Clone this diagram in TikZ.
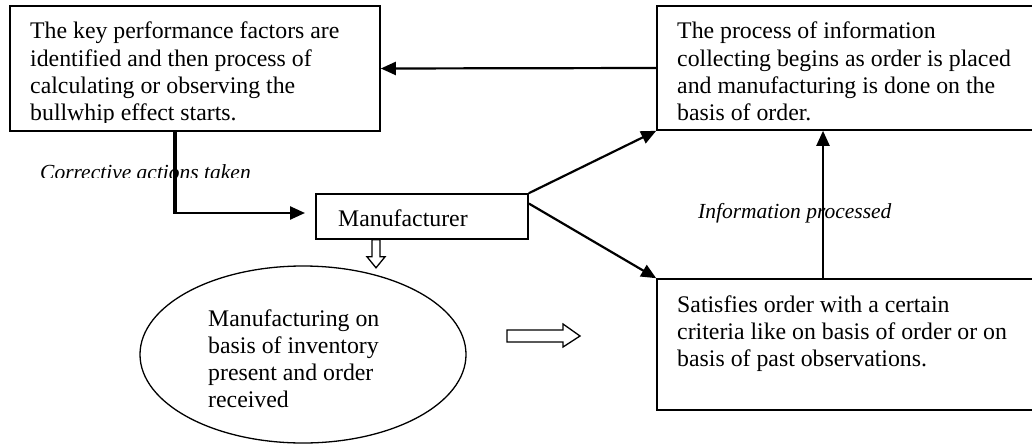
\documentclass[tikz,border=0pt]{standalone}
\usepackage{fontspec}
\setmainfont{Liberation Serif}
\usetikzlibrary{arrows.meta,shapes.geometric}
\tikzset{
  box/.style={draw, line width=1.6pt, inner sep=0pt, rectangle},
  txt/.style={anchor=base west, inner sep=0pt, font=\fontsize{23.8}{27.3}\selectfont},
  itxt/.style={anchor=base west, inner sep=0pt, font=\fontsize{21.5}{26}\selectfont\itshape},
  conn/.style={line width=2.2pt, -{Triangle[length=15pt,width=13pt]}},
  hollow/.style={draw, line width=1.3pt, fill=white, line join=miter}
}
\newcommand{\lines}[1]{\parbox[t]{420pt}{\raggedright #1}}
\begin{document}
\begin{tikzpicture}[x=1pt,y=-1pt]
\useasboundingbox (0,0) rectangle (1032,444);
\clip (0,0) rectangle (1032,444);
% boxes
\node[box, minimum width=370pt, minimum height=125pt] (b1) at (195,68.5) {};
\node[box, minimum width=388pt, minimum height=124pt] (b2) at (851,68) {};
\node[box, minimum width=212pt, minimum height=45pt] (mf) at (422,216.5) {};
\node[draw, line width=1.3pt, ellipse, minimum width=326pt, minimum height=177pt, inner sep=0pt] (el) at (303,354.5) {};
\node[box, minimum width=388pt, minimum height=131pt] (b3) at (851,344.5) {};
% texts
\begin{scope}
\clip (10,6) rectangle (380,122);
\node[txt] (b1t) at (30,39) {\lines{The key performance factors are\\identified and then process of\\calculating or observing the\\bullwhip effect starts.}};
\end{scope}
\begin{scope}
\clip (657,6) rectangle (1032,122);
\node[txt] (b2t) at (677,39) {\lines{The process of information\\collecting begins as order is placed\\and manufacturing is done on the\\basis of order.}};
\end{scope}
\node[txt] (mft) at (338,226) {Manufacturer};
\node[txt] (elt) at (208,326) {\lines{Manufacturing on\\basis of inventory\\present and order\\received}};
\node[txt] (b3t) at (677,312) {\lines{Satisfies order with a certain\\criteria like on basis of order or on\\basis of past observations.}};
\begin{scope}
\clip (0,140) rectangle (400,177.5);
\node[itxt] (lab1) at (40,179) {Corrective actions taken};
\end{scope}
\node[itxt] (lab2) at (698,218) {Information processed};
% connectors
\draw[conn] (b2.west) -- (b1.east);
\coordinate (c0) at (175,213);
\coordinate (c1) at (305,213);
\draw[line width=4pt] (b1.south -| c0) -- ([yshift=1pt]c0);
\draw[conn, line width=2.4pt] ([xshift=-2pt]c0) -- (c1);
\draw[conn] (mf.north east) -- (b2.south west);
\draw[conn] ([yshift=13pt]mf.east) -- (b3.north west);
\coordinate (v) at (823,0);
\draw[conn] (b3.north -| v) -- (b2.south -| v);
% hollow arrows
\draw[hollow] ([xshift=-50pt]mf.south) -- ++(0,17) -- ++(-5,0) -- ++(9,11) -- ++(9,-11) -- ++(-5,0) -- ++(0,-17) -- cycle;
\coordinate (ha) at (507,336);
\draw[hollow] (ha) ++(0,-6) -- ++(56,0) -- ++(0,-6) -- ++(17,12) -- ++(-17,11) -- ++(0,-5) -- ++(-56,0) -- cycle;
\end{tikzpicture}
\end{document}
